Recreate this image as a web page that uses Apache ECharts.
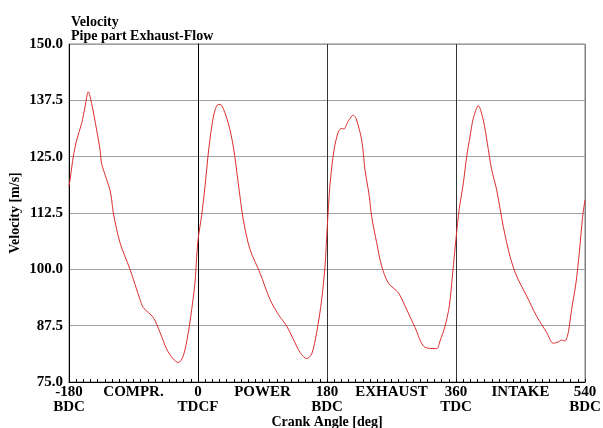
<!DOCTYPE html>
<html>
<head>
<meta charset="utf-8">
<script src="https://cdn.jsdelivr.net/npm/echarts@6/dist/echarts.min.js"></script>
<style>
  html, body { margin: 0; padding: 0; background: #fff; }
  #chart { width: 603px; height: 428px; }
</style>
</head>
<body>
<div id="chart"></div>
<script>
  // crank angle [deg] and pipe velocity [m/s]
  const crankAngle = [
    -180, -178, -174, -169.3, -162.3, -157.7, -153, -148.4, -141.4, -136.7,
    -134.5, -127.4, -122.8, -120.4, -118.2, -108.8, -94.9, -80.9, -76.3, -62.4,
    -53, -43.7, -34.5, -27.5, -20.5, -13.5, -8.8, -4.2, -1.8, 0.4,
    5.1, 9.8, 14.4, 19.1, 23.7, 28.3, 33, 42.3, 49.3, 56.2,
    63.2, 72.6, 86.5, 100.5, 112.1, 123.7, 133, 142.3, 151.6, 158.6,
    165.6, 172.6, 177.2, 180.4, 184.2, 189.8, 195.8, 200.5, 203.7, 208.3,
    216.7, 220.5, 228.4, 233, 239, 242.3, 249.3, 256.3, 265.5, 279.5,
    288.8, 302.8, 316.7, 333, 337.7, 344.7, 350.7, 355.4, 360, 364.6,
    370.2, 374.9, 379.5, 384.1, 391.1, 398.1, 403.7, 409.8, 416.8, 426,
    435.3, 444.6, 458.6, 472.5, 486.5, 495.7, 502.7, 507.4, 512, 516.7,
    521.3, 527.4, 532, 536.7, 540
  ];
  const velocity = [
    118.4, 120.5, 125, 128.7, 132.4, 136, 139.4, 136.8, 130.9, 126.5,
    123.5, 119.9, 117.6, 115.4, 112.5, 105.9, 100, 93.3, 91.5, 89.3,
    86, 82.3, 80.1, 79.3, 80.8, 86, 91.1, 97, 102.9, 107,
    112, 118.4, 125.8, 131.6, 135.3, 136.6, 136.4, 132.4, 127.2, 119.1,
    111, 104.4, 99.2, 93.3, 90, 87.4, 84.5, 81.6, 80.2, 81.2,
    86, 93.3, 100.7, 109.5, 118.8, 126.5, 130.5, 131.3, 131.1, 132.5,
    134.2, 133.5, 128.7, 122.1, 116.2, 111.7, 105.9, 100.7, 97, 94.8,
    91.9, 87.1, 82.7, 82.4, 84.1, 87.4, 91.9, 99.2, 106.8, 113.5,
    119.1, 125, 129.4, 133.5, 136.3, 133.1, 128, 122.1, 117.6, 109.5,
    102.9, 98.5, 94.1, 89.6, 86, 83.6, 83.9, 84.3, 84.1, 86,
    91.1, 97, 103.6, 111.7, 115.4
  ];

  // x-axis labels: angles and stroke names
  const labelAngles = [-180, -90, 0, 90, 180, 270, 360, 450, 540];
  const labelTexts = [
    '-180\nBDC', 'COMPR.', '0\nTDCF', 'POWER', '180\nBDC',
    'EXHAUST', '360\nTDC', 'INTAKE', '540\nBDC'
  ];

  const serif = "'Liberation Serif', 'Times New Roman', serif";
  const chart = echarts.init(document.getElementById('chart'));

  chart.setOption({
    animation: false,
    backgroundColor: '#fff',
    title: {
      text: 'Velocity\nPipe part Exhaust-Flow',
      left: 66,
      top: 10,
      textStyle: {
        fontFamily: serif,
        fontSize: 14,
        fontWeight: 'bold',
        color: '#000',
        lineHeight: 14
      }
    },
    grid: {
      left: 69,
      right: 18,
      top: 44,
      bottom: 46,
      outerBoundsMode: 'none',
      show: true,
      borderColor: '#808080',
      borderWidth: 1
    },
    xAxis: {
      type: 'value',
      min: -180,
      max: 540,
      interval: 180,
      name: 'Crank Angle [deg]',
      nameLocation: 'middle',
      nameGap: 33,
      nameMoveOverlap: false,
      nameTextStyle: {
        fontFamily: serif,
        fontSize: 14,
        fontWeight: 'bold',
        color: '#000'
      },
      axisLine: { show: true, lineStyle: { color: '#000', width: 1 } },
      axisTick: { show: true, inside: true, length: 3, lineStyle: { color: '#000' } },
      minorTick: {
        show: true,
        splitNumber: 18,
        length: 3,
        lineStyle: { color: '#000', width: 1 }
      },
      axisLabel: {
        customValues: labelAngles,
        formatter: v => labelTexts[labelAngles.indexOf(v)] || '',
        fontFamily: serif,
        fontSize: 15,
        fontWeight: 'bold',
        color: '#000',
        lineHeight: 15,
        margin: 3,
        verticalAlign: 'top'
      },
      splitLine: {
        show: true,
        lineStyle: { color: ['#000', '#333', '#333', '#333', '#808080'], width: 1 }
      }
    },
    yAxis: {
      type: 'value',
      min: 75,
      max: 150,
      interval: 12.5,
      name: 'Velocity [m/s]',
      nameLocation: 'middle',
      nameGap: 47,
      nameMoveOverlap: false,
      nameTextStyle: {
        fontFamily: serif,
        fontSize: 14,
        fontWeight: 'bold',
        color: '#000'
      },
      axisLine: { show: true, lineStyle: { color: '#000', width: 1 } },
      axisTick: { show: false },
      axisLabel: {
        formatter: v => v.toFixed(1),
        fontFamily: serif,
        fontSize: 15,
        fontWeight: 'bold',
        color: '#000',
        margin: 6
      },
      splitLine: {
        show: true,
        lineStyle: { color: '#a0a0a0', width: 1 }
      }
    },
    series: [
      {
        name: 'Velocity',
        type: 'line',
        symbol: 'none',
        smooth: 0.3,
        data: crankAngle.map((a, i) => [a, velocity[i]]),
        lineStyle: { color: '#dc2e2e', width: 1 }
      }
    ]
  });
</script>
</body>
</html>
